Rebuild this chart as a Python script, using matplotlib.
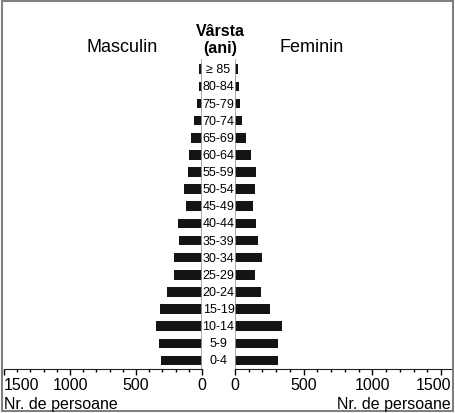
import matplotlib
matplotlib.use('Agg')
import matplotlib.pyplot as plt
from matplotlib.patches import Rectangle
from matplotlib.transforms import blended_transform_factory, ScaledTranslation
from matplotlib.ticker import MultipleLocator

ages = ['0-4', '5-9', '10-14', '15-19', '20-24', '25-29', '30-34', '35-39', '40-44',
        '45-49', '50-54', '55-59', '60-64', '65-69', '70-74', '75-79', '80-84', '\u2265 85']
male = [308, 323, 350, 315, 262, 210, 210, 173, 185, 120, 135, 105, 98, 83, 60, 38, 25, 20]
female = [315, 315, 345, 255, 188, 143, 195, 165, 150, 128, 143, 150, 120, 83, 53, 38, 28, 20]
ticks = [0, 500, 1000, 1500]

plt.rcParams['font.family'] = ['Liberation Sans', 'DejaVu Sans']

fig = plt.figure(figsize=(4.55, 4.14), dpi=100)
bot, h = 1 - 370 / 414, 310 / 414
ax_l = fig.add_axes([4 / 455, bot, 198 / 455, h])
ax_r = fig.add_axes([235 / 455, bot, 217 / 455, h])

y = list(range(len(ages)))
bar_c = '#141414'
ax_l.barh(y, male, height=0.56, color=bar_c)
ax_r.barh(y, female, height=0.56, color=bar_c)

ax_l.set_xlim(1500, 0)
ax_r.set_xlim(0, 1580)
for ax in (ax_l, ax_r):
    ax.set_ylim(-0.5, 17.6)
    for s in ('top', 'left', 'right'):
        ax.spines[s].set_visible(False)
    ax.spines['bottom'].set_color('#222222')
    ax.set_yticks([])
    ax.set_xticks(ticks)
    ax.xaxis.set_minor_locator(MultipleLocator(100))
    ax.tick_params(axis='x', which='major', length=4, width=1, labelsize=11.5, pad=2)
    ax.tick_params(axis='x', which='minor', length=2.5, width=1)
    ax.axvline(0, color='#9a9a9a', lw=1.2)
    ax.patch.set_alpha(0)

ax_l.get_xticklabels()[-1].set_horizontalalignment('left')
lab = ax_r.get_xticklabels()[-1]
lab.set_transform(lab.get_transform() + ScaledTranslation(-8 / 100, 0, fig.dpi_scale_trans))

# age labels between the two halves
tr = blended_transform_factory(fig.transFigure, ax_l.transData)
for yi, a in zip(y, ages):
    ax_l.text(218.5 / 455, yi, a, transform=tr, ha='center', va='center',
              fontsize=9, clip_on=False)

fig.text(122 / 455, 1 - 47 / 414, 'Masculin', ha='center', va='center', fontsize=13)
fig.text(312 / 455, 1 - 47 / 414, 'Feminin', ha='center', va='center', fontsize=13)
fig.text(220 / 455, 1 - 31 / 414, 'V\u00e2rsta', ha='center', va='center', fontsize=11.5, weight='bold')
fig.text(220 / 455, 1 - 48 / 414, '(ani)', ha='center', va='center', fontsize=11.5, weight='bold')
fig.text(4 / 455, 1 - 405 / 414, 'Nr. de persoane', ha='left', va='center', fontsize=11.5)
fig.text(451 / 455, 1 - 405 / 414, 'Nr. de persoane', ha='right', va='center', fontsize=11.5)

fig.patches.append(Rectangle((2 / 455, 2 / 414), 451 / 455, 410 / 414, transform=fig.transFigure,
                             fill=False, edgecolor='#808080', lw=1.5))

fig.savefig('out.png', dpi=100)
